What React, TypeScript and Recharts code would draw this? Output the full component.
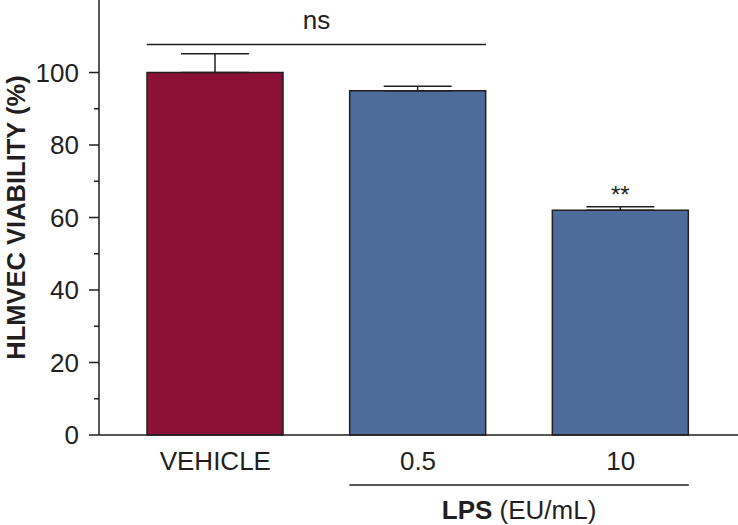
import React from 'react';
import { BarChart, Bar, XAxis, YAxis, ErrorBar, Cell, ReferenceLine, LabelList } from 'recharts';

// values
const categories = ['VEHICLE', '0.5', '10'];
const viability = [100, 95, 62];
const errorUp = [5.2, 1.2, 1.0];
const significance = ['', '', '**'];
const barColors = ['#8A1038', '#4D6C99', '#4D6C99'];
const yTicks = [0, 10, 20, 30, 40, 50, 60, 70, 80, 90, 100];
const yLabelTicks = [0, 20, 40, 60, 80, 100];

// bracket positions on a hidden numeric axis spanning the category bands (0..2)
const nsBracket = { from: 0.108, to: 1.224, y: 107.7, text: 'ns' };
const lpsBracket = { from: 0.774, to: 1.891, y: -13.8 };

const data = categories.map((name, i) => ({
  name,
  value: viability[i],
  err: [0, errorUp[i]],
  sig: significance[i],
}));

const FONT = '"Liberation Sans", Arial, Helvetica, sans-serif';
const INK = '#231f20';

const YTick = (props: any) => {
  const { x, y, payload } = props;
  const major = yLabelTicks.includes(payload.value);
  return (
    <g>
      <line x1={major ? x : x + 5} x2={x + 10} y1={y} y2={y} stroke={INK} strokeWidth={1.5} />
      {major && (
        <text x={x - 10} y={y} dy="0.36em" textAnchor="end" fontSize={26} fontFamily={FONT} fill={INK}>
          {payload.value}
        </text>
      )}
    </g>
  );
};

const YLabel = (props: any) => {
  const vb = props.viewBox;
  const cx = vb.x + 16;
  const cy = vb.y + vb.height / 2;
  return (
    <text
      x={cx}
      y={cy}
      transform={`rotate(-90 ${cx} ${cy})`}
      textAnchor="middle"
      dominantBaseline="central"
      fontSize={25.5}
      fontWeight="bold"
      fontFamily={FONT}
      fill={INK}
    >
      HLMVEC VIABILITY (%)
    </text>
  );
};

const SigLabel = (props: any) => {
  const { x, y, width, value } = props;
  if (!value) return null;
  return (
    <text x={x + width / 2} y={y - 7} textAnchor="middle" fontSize={24} fontFamily={FONT} fill={INK}>
      {value}
    </text>
  );
};

const LpsLabel = (props: any) => {
  const vb = props.viewBox;
  return (
    <text x={vb.x + vb.width / 2} y={vb.y + 34} textAnchor="middle" fontSize={26} fontFamily={FONT} fill={INK}>
      <tspan fontWeight="bold">LPS</tspan>
      <tspan> (EU/mL)</tspan>
    </text>
  );
};

const NsLabel = (props: any) => {
  const vb = props.viewBox;
  return (
    <text x={vb.x + vb.width / 2} y={vb.y - 16} textAnchor="middle" fontSize={26} fontFamily={FONT} fill={INK}>
      {nsBracket.text}
    </text>
  );
};

export default function App() {
  return (
    <div style={{ position: 'absolute', left: 0, top: 0, background: '#fff' }}>
      <BarChart width={738} height={525} data={data} margin={{ top: 0, right: 0, bottom: 60, left: 0 }}>
        <XAxis
          dataKey="name"
          padding={{ left: 15, right: 16 }}
          tickLine={false}
          tickSize={0}
          tickMargin={17}
          axisLine={{ stroke: INK, strokeWidth: 1.5 }}
          tick={{ fontSize: 26, fontFamily: FONT, fill: INK }}
        />
        <XAxis xAxisId="num" type="number" domain={[0, 2]} allowDataOverflow hide padding={{ left: 15, right: 16 }} />
        <YAxis
          width={99}
          domain={[0, 120]}
          ticks={yTicks}
          interval={0}
          tickLine={false}
          tickSize={10}
          tickMargin={0}
          axisLine={{ stroke: INK, strokeWidth: 1.5 }}
          tick={<YTick />}
          label={{ content: <YLabel /> }}
        />
        <Bar dataKey="value" barSize={136} stroke={INK} strokeWidth={1.5} isAnimationActive={false}>
          {data.map((d, i) => (
            <Cell key={d.name} fill={barColors[i]} />
          ))}
          <ErrorBar dataKey="err" width={34} stroke={INK} strokeWidth={1.5} direction="y" isAnimationActive={false} />
          <LabelList dataKey="sig" content={<SigLabel />} />
        </Bar>
        <ReferenceLine
          xAxisId="num"
          segment={[{ x: nsBracket.from, y: nsBracket.y }, { x: nsBracket.to, y: nsBracket.y }]}
          stroke={INK}
          strokeWidth={1.5}
          ifOverflow="visible"
          label={{ content: <NsLabel /> }}
        />
        <ReferenceLine
          xAxisId="num"
          segment={[{ x: lpsBracket.from, y: lpsBracket.y }, { x: lpsBracket.to, y: lpsBracket.y }]}
          stroke={INK}
          strokeWidth={1.5}
          ifOverflow="visible"
          label={{ content: <LpsLabel /> }}
        />
      </BarChart>
    </div>
  );
}
